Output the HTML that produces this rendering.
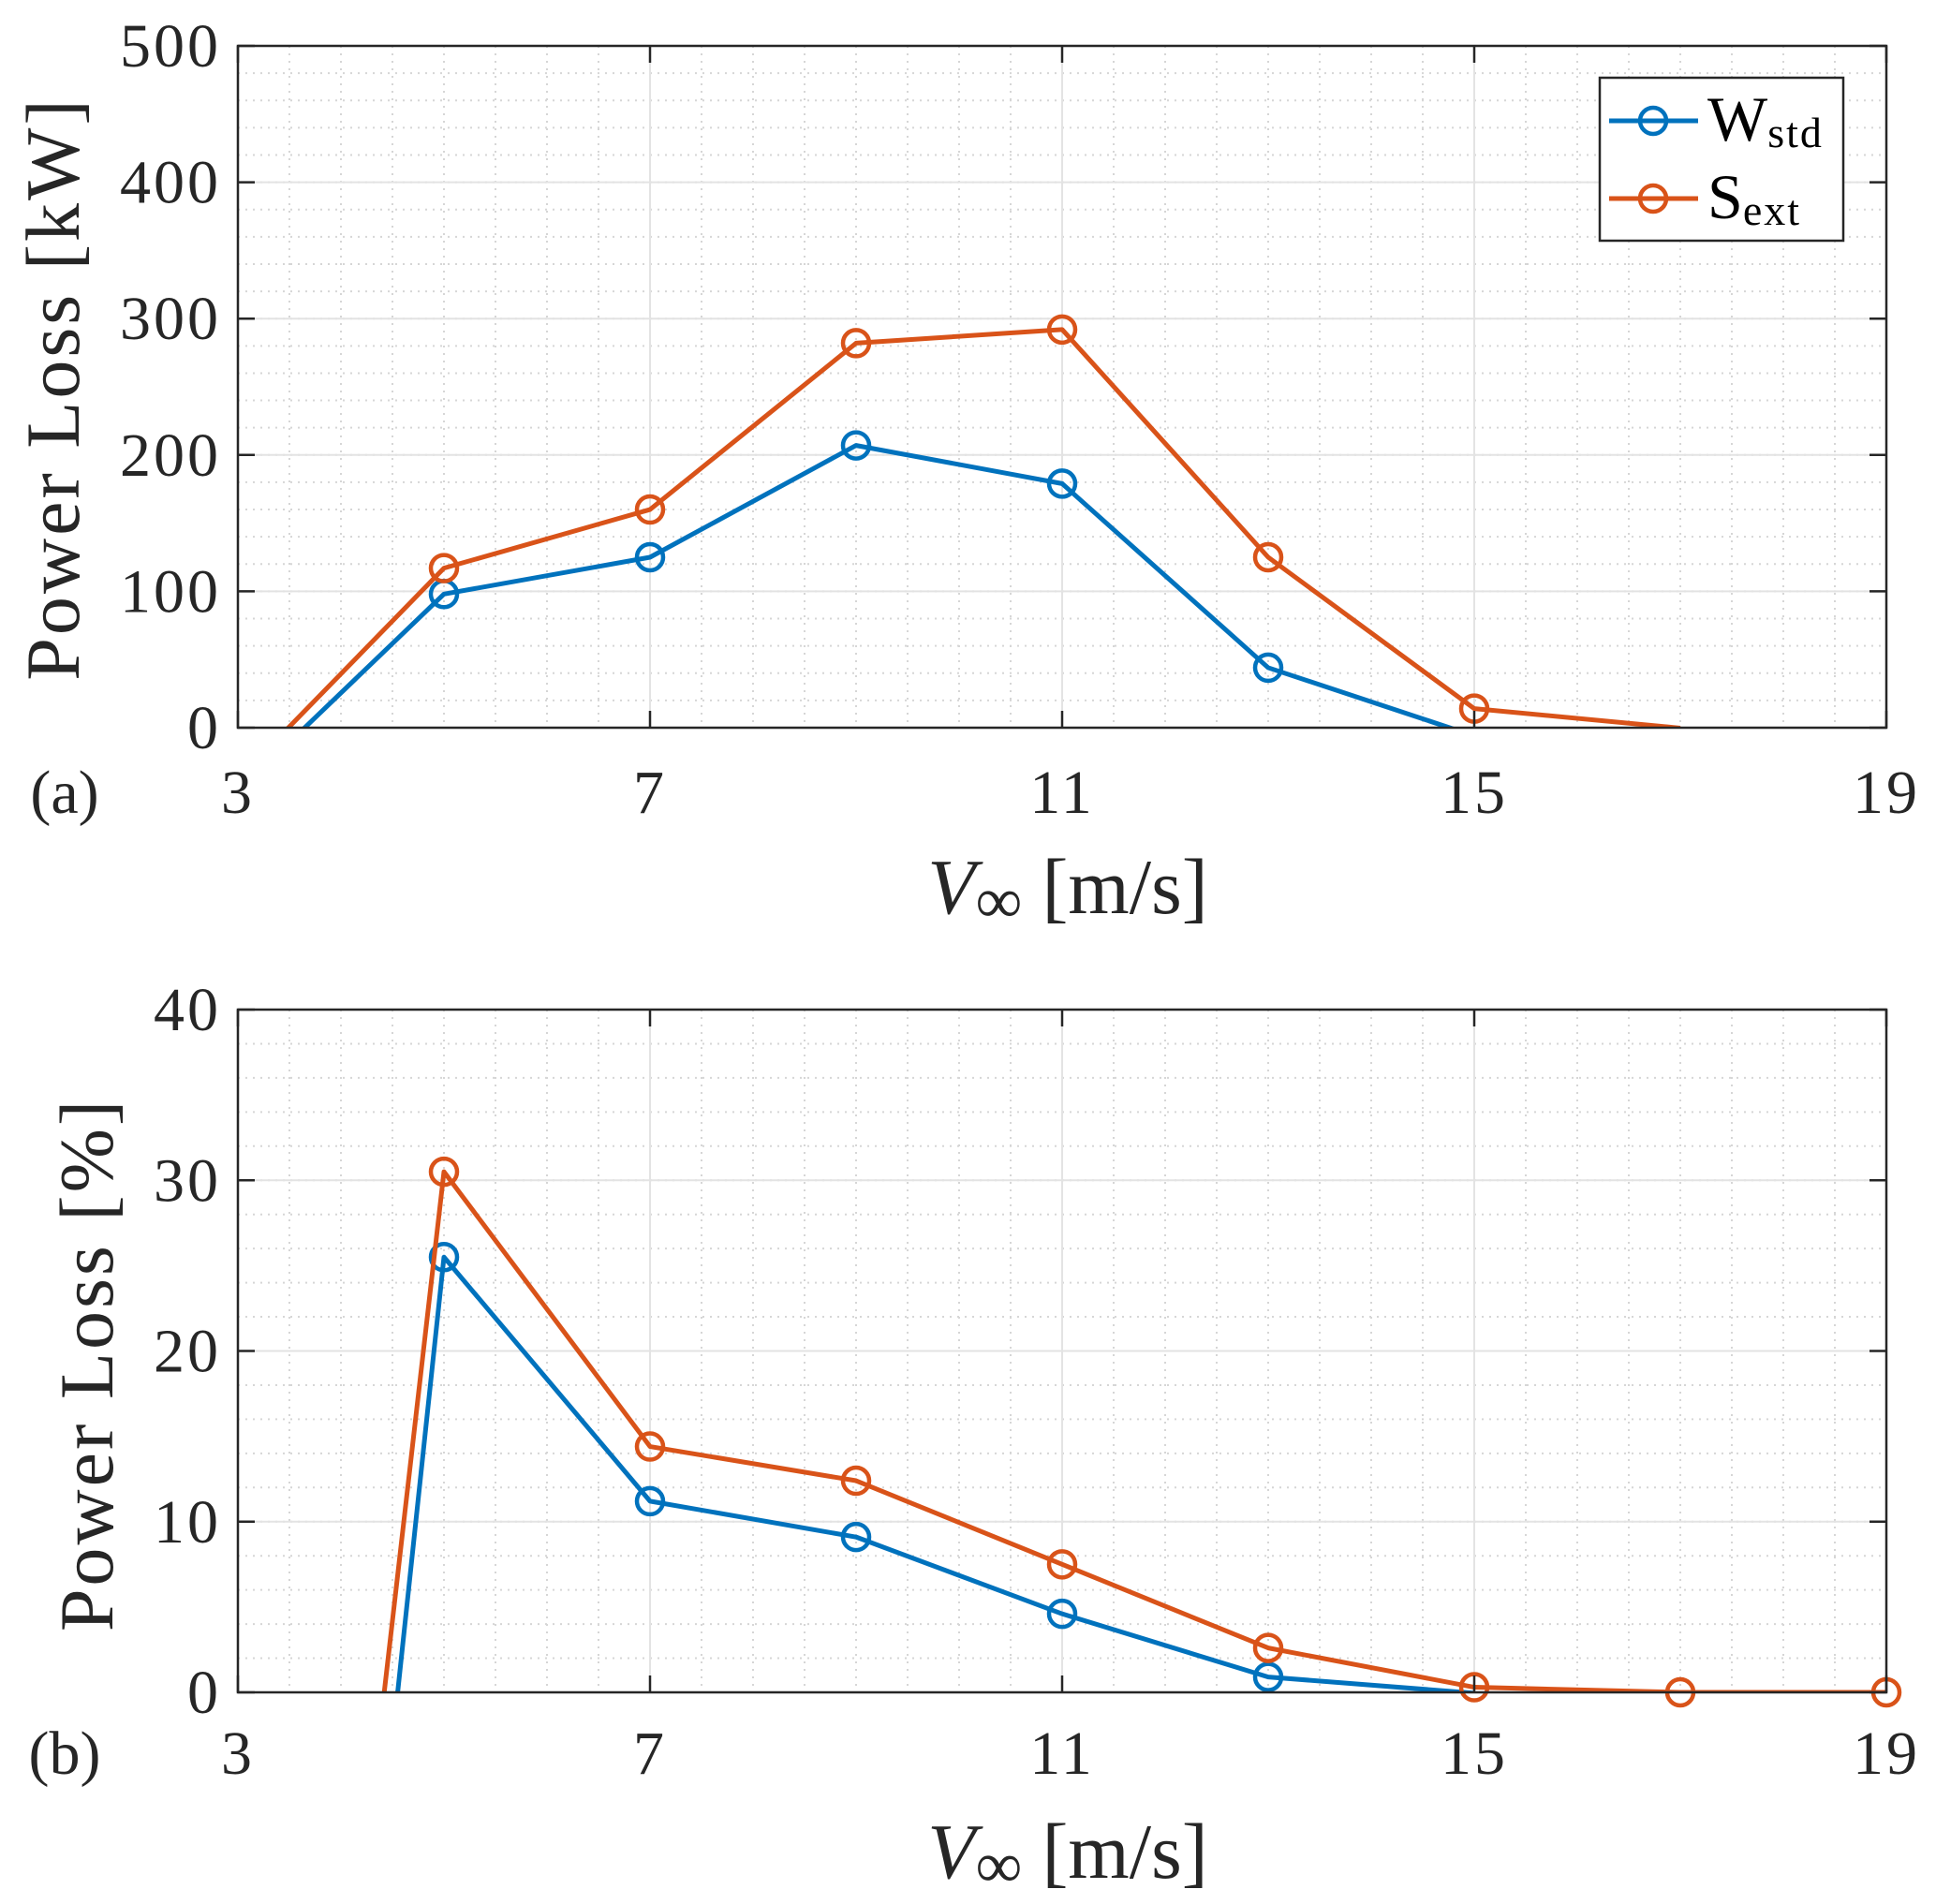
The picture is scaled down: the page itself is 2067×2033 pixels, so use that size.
<!DOCTYPE html>
<html><head><meta charset="utf-8"><style>
html,body{margin:0;padding:0;background:#fff;overflow:hidden;width:2067px;height:2033px;}
svg{display:block;font-family:"Liberation Serif",serif;}
</style></head><body>
<svg id="chart" width="2067" height="2033" viewBox="0 0 2067 2033" xmlns="http://www.w3.org/2000/svg"></svg>
<script>
const xTicks = [3, 7, 11, 15, 19];
const kwTicks = [0, 100, 200, 300, 400, 500];
const pctTicks = [0, 10, 20, 30, 40];
const kwX_W = [3, 5, 7, 9, 11, 13, 15];
const kwW = [-47, 98, 125, 207, 179, 44, -6];
const kwX_S = [3, 5, 7, 9, 11, 13, 15, 17];
const kwS = [-38, 117, 160, 282, 292, 125, 14, -0.3];
const pctX_W = [3, 5, 7, 9, 11, 13, 15];
const pctW = [-88, 25.5, 11.2, 9.1, 4.6, 0.9, -0.05];
const pctX_S = [3, 5, 7, 9, 11, 13, 15, 17, 19];
const pctS = [-74.7, 30.5, 14.4, 12.4, 7.5, 2.6, 0.3, 0, 0];

const NS = "http://www.w3.org/2000/svg";
const svg = document.getElementById('chart');
const BLUE = "#0072BD", ORANGE = "#D95319";
function mk(tag, attrs, parent) {
  const e = document.createElementNS(NS, tag);
  for (const k in attrs) e.setAttribute(k, attrs[k]);
  (parent || svg).appendChild(e);
  return e;
}
const defs = mk('defs', {});

function panel(id, top, bottom, ymax, yTicks, minorStep, seriesList, ylabel, ylabelX, ylabelY, tag, xTickY, xLabelY) {
  const L = 254, R = 2014;
  const xs = v => L + (v - 3) / 16 * (R - L);
  const ys = v => bottom - v / ymax * (bottom - top);
  const g = mk('g', {});
  
  
  const clip = mk('clipPath', {id: 'clip-' + id}, defs);
  mk('rect', {x: L, y: top, width: R - L, height: bottom - top}, clip);
  const grid = mk('g', {}, g);
  
  
  for (let v = 3.5; v < 19; v += 0.5) {
    if ((v - 3) % 4 === 0) continue;
    mk('line', {x1: xs(v), x2: xs(v), y1: top, y2: bottom, stroke: '#d6d6d6', 'stroke-width': 2, 'stroke-dasharray': '2 6'}, grid);
  }
  for (let v = minorStep; v < ymax; v += minorStep) {
    mk('line', {x1: L, x2: R, y1: ys(v), y2: ys(v), stroke: '#d6d6d6', 'stroke-width': 2, 'stroke-dasharray': '2 6'}, grid);
  }
  xTicks.forEach(t => { if (t > 3 && t < 19) mk('line', {x1: xs(t), x2: xs(t), y1: top, y2: bottom, stroke: '#e3e3e3', 'stroke-width': 2}, grid); });
  yTicks.forEach(t => { if (t > 0 && t < ymax) mk('line', {x1: L, x2: R, y1: ys(t), y2: ys(t), stroke: '#e3e3e3', 'stroke-width': 2}, grid); });
  seriesList.forEach(s => {
    const sg = mk('g', {'clip-path': 'url(#clip-' + id + ')'}, g);
    
    
    const pts = s.x.map((xv, i) => xs(xv) + ',' + ys(s.y[i])).join(' ');
    mk('polyline', {points: pts, fill: 'none', stroke: s.color, 'stroke-width': 5, 'stroke-linejoin': 'round'}, sg);
    s.x.forEach((xv, i) => {
      if (s.y[i] < 0) return;
      const c = mk('circle', {cx: xs(xv), cy: ys(s.y[i]), r: 14, fill: 'none', stroke: s.color, 'stroke-width': 4.5}, g);
      
      
    });
  });
  mk('rect', {x: L, y: top, width: R - L, height: bottom - top, fill: 'none', stroke: '#262626', 'stroke-width': 2.5}, g);
  xTicks.forEach(t => {
    mk('line', {x1: xs(t), x2: xs(t), y1: bottom, y2: bottom - 18, stroke: '#262626', 'stroke-width': 2.5}, g);
    mk('line', {x1: xs(t), x2: xs(t), y1: top, y2: top + 18, stroke: '#262626', 'stroke-width': 2.5}, g);
    const tx = mk('text', {x: xs(t), y: xTickY, 'font-size': 66, 'letter-spacing': 3, 'text-anchor': 'middle', fill: '#262626'}, g);
    
    
    tx.textContent = t;
  });
  yTicks.forEach(t => {
    mk('line', {x1: L, x2: L + 18, y1: ys(t), y2: ys(t), stroke: '#262626', 'stroke-width': 2.5}, g);
    mk('line', {x1: R, x2: R - 18, y1: ys(t), y2: ys(t), stroke: '#262626', 'stroke-width': 2.5}, g);
    const ty = mk('text', {x: L - 18, y: ys(t) + 22, 'font-size': 66, 'letter-spacing': 3, 'text-anchor': 'end', fill: '#262626'}, g);
    
    
    ty.textContent = t;
  });
  const yl = mk('text', {x: ylabelX, y: ylabelY, 'font-size': 82, 'letter-spacing': 3, 'text-anchor': 'middle', fill: '#262626', transform: 'rotate(-90 ' + ylabelX + ' ' + ylabelY + ')'}, g);
  
  
  yl.textContent = ylabel;
  const xl = mk('text', {x: 1140, y: xLabelY, 'font-size': 84, 'text-anchor': 'middle', fill: '#262626'}, g);
  
  
  const v = mk('tspan', {'font-style': 'italic'}, xl); v.textContent = 'V';
  const inf = mk('tspan', {'font-size': 70, dy: 10}, xl); inf.textContent = '∞';
  const rest = mk('tspan', {dy: -10}, xl); rest.textContent = ' [m/s]';
  const pt = mk('text', {x: 69, y: xTickY, 'font-size': 66, 'text-anchor': 'middle', fill: '#262626'}, g);
  
  
  pt.textContent = tag;
}

panel('a', 49, 777, 500, kwTicks, 20, [
  {name: 'wstd', x: kwX_W, y: kwW, color: BLUE},
  {name: 'sext', x: kwX_S, y: kwS, color: ORANGE}
], 'Power Loss [kW]', 84, 415, '(a)', 868, 975);

panel('b', 1078, 1807, 40, pctTicks, 2, [
  {name: 'wstd', x: pctX_W, y: pctW, color: BLUE},
  {name: 'sext', x: pctX_S, y: pctS, color: ORANGE}
], 'Power Loss [%]', 120, 1457, '(b)', 1894, 2005);

const lg = mk('g', {});


mk('rect', {x: 1708, y: 83, width: 260, height: 174, fill: '#fff', stroke: '#262626', 'stroke-width': 2.5}, lg);
[[BLUE, 'W', 'std', 129], [ORANGE, 'S', 'ext', 212]].forEach(e => {
  const eg = mk('g', {}, lg);
  
  
  mk('line', {x1: 1718, x2: 1813, y1: e[3], y2: e[3], stroke: e[0], 'stroke-width': 5}, eg);
  mk('circle', {cx: 1765, cy: e[3], r: 14, fill: 'none', stroke: e[0], 'stroke-width': 4.5}, eg);
  const t = mk('text', {x: 1823, y: e[3] + 21, 'font-size': 68, fill: '#000'}, eg);
  const a = mk('tspan', {}, t); a.textContent = e[1];
  const b = mk('tspan', {'font-size': 46, dy: 7, 'letter-spacing': 2}, t); b.textContent = e[2];
});
</script>
</body></html>
